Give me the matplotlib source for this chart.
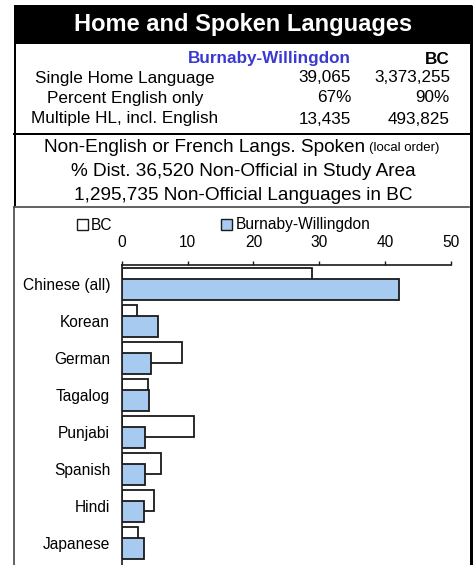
import matplotlib
matplotlib.use("Agg")
import matplotlib.pyplot as plt
from matplotlib.patches import Rectangle
import numpy as np

plt.rcParams['font.family'] = ['Liberation Sans', 'DejaVu Sans']

# ---- data ----
title = "Home and Spoken Languages"
area_name = "Burnaby-Willingdon"
region_name = "BC"
table_rows = ["Single Home Language", "Percent English only", "Multiple HL, incl. English"]
area_values = ["39,065", "67%", "13,435"]
region_values = ["3,373,255", "90%", "493,825"]
subtitle_main = "Non-English or French Langs. Spoken"
subtitle_small = "(local order)"
subtitle_lines = ["% Dist. 36,520 Non-Official in Study Area",
                  "1,295,735 Non-Official Languages in BC"]

languages = ["Chinese (all)", "Korean", "German", "Tagalog", "Punjabi",
             "Spanish", "Hindi", "Japanese"]
bc_pct = [28.9, 2.3, 9.2, 4.0, 11.0, 6.0, 4.9, 2.4]
bw_pct = [42.1, 5.5, 4.4, 4.1, 3.5, 3.45, 3.4, 3.4]
x_ticks = [0, 10, 20, 30, 40, 50]

W, H = 476, 565
fig = plt.figure(figsize=(W / 100, H / 100), dpi=100)

# overlay in pixel coordinates
ov = fig.add_axes([0, 0, 1, 1], zorder=0)
ov.set_xlim(0, W)
ov.set_ylim(H, 0)
ov.axis('off')

px = 0.72  # points per pixel

# title band
ov.add_patch(Rectangle((14, 5), 458, 39, facecolor='black', edgecolor='none'))
ov.text(243, 25, title, color='white', fontsize=17, fontweight='bold',
        ha='center', va='center')

# table box lines
ov.plot([15, 15], [44, 206], color='black', lw=2 * px, solid_capstyle='butt')
ov.plot([14, 471], [134, 134], color='black', lw=2 * px)
ov.plot([470.5, 470.5], [5, H], color='black', lw=3 * px, solid_capstyle='butt')
# chart box
ov.plot([13.5, 13.5], [206.5, H], color='#404040', lw=1.6 * px)
ov.plot([13.5, 469], [206.8, 206.8], color='#404040', lw=1.6 * px)

# table content
ov.text(351, 59, area_name, color='#3A3AD0', fontsize=12.3, fontweight='bold',
        ha='right', va='center')
ov.text(450, 59, region_name, color='black', fontsize=12.3, fontweight='bold',
        ha='right', va='center')
row_y = [78, 98, 119]
for lab, a, b, yy in zip(table_rows, area_values, region_values, row_y):
    ov.text(125, yy, lab, fontsize=12.3, ha='center', va='center')
    ov.text(351, yy, a, fontsize=12.3, ha='right', va='center')
    ov.text(450, yy, b, fontsize=12.3, ha='right', va='center')

# subtitle box
ov.text(365, 147, subtitle_main, fontsize=13.7, ha='right', va='center')
ov.text(369, 148, subtitle_small, fontsize=9.5, ha='left', va='center')
for s, yy in zip(subtitle_lines, [171, 195]):
    ov.text(243, yy, s, fontsize=13.7, ha='center', va='center')

# ---- chart ----
x0, x50 = 122, 450.7
ax_top = 265
ax = fig.add_axes([x0 / W, 0, (x50 - x0) / W, (H - ax_top) / H], zorder=1)
ax.patch.set_alpha(0)
y = np.arange(len(languages))
off = 0.15
hgt = 0.57
bc_bars = ax.barh(y - off, bc_pct, height=hgt, color='white',
                  edgecolor='#1a1a1a', linewidth=1.3, zorder=2)
bw_bars = ax.barh(y + off, bw_pct, height=hgt, color='#A6CAF0',
                  edgecolor='#1a1a1a', linewidth=1.3, zorder=3)
ax.set_xlim(0, 50)
ax.set_ylim(7.6, -0.51)
ax.set_xticks(x_ticks)
ax.set_xticklabels([str(t) for t in x_ticks])
ax.xaxis.tick_top()
ax.tick_params(axis='x', direction='out', length=4 * px, width=1, color='#1a1a1a',
               labelsize=11.2, pad=8)
ax.set_yticks(y)
ax.set_yticklabels(languages)
ax.tick_params(axis='y', length=0, labelsize=11.2, pad=8.5)
for s in ['right', 'bottom']:
    ax.spines[s].set_visible(False)
ax.spines['top'].set_color('#1a1a1a')
ax.spines['left'].set_color('#1a1a1a')
ax.spines['top'].set_linewidth(1.2)
ax.spines['left'].set_linewidth(1.2)

leg = ax.legend(handles=[bc_bars, bw_bars], labels=['BC', area_name], ncol=2,
                frameon=False, loc='center left',
                bbox_to_anchor=(77 / W, 1 - 225 / H), bbox_transform=fig.transFigure,
                handlelength=0.7, handleheight=0.7, handletextpad=0.2,
                columnspacing=7.0, borderpad=0, borderaxespad=0, fontsize=11.2)
for p in leg.get_patches():
    p.set_linewidth(1.0)

fig.savefig('out.png', dpi=100)
